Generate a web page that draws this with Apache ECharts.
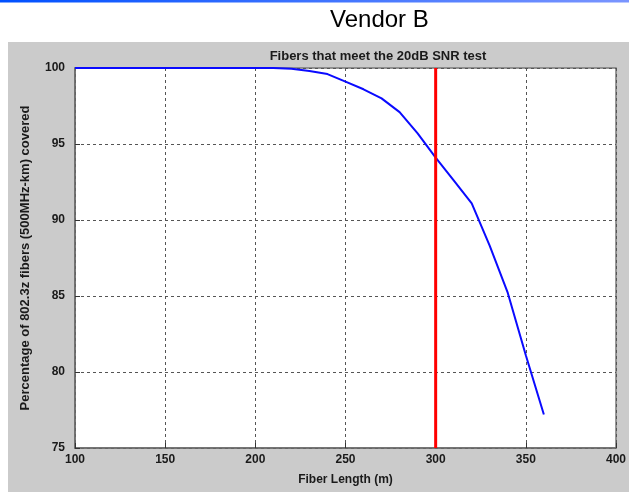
<!DOCTYPE html>
<html>
<head>
<meta charset="utf-8">
<script src="https://cdn.jsdelivr.net/npm/echarts@6/dist/echarts.min.js"></script>
<style>html,body{margin:0;padding:0;background:#fff;}#c{width:629px;height:492px;}</style>
</head>
<body>
<div id="c"></div>
<script>
const fiberLength = [100, 110, 120, 130, 140, 150, 160, 170, 180, 190, 200, 210, 220, 230, 240, 250, 260, 270, 280, 290, 300, 310, 320, 330, 340, 350, 360];
const percentCovered = [100, 100, 100, 100, 100, 100, 100, 100, 100, 100, 100, 100, 99.95, 99.8, 99.6, 99.1, 98.6, 98.0, 97.1, 95.7, 94.1, 92.6, 91.1, 88.3, 85.2, 81.1, 77.2];
const limitLength = [300, 300];
const limitRange = [75, 100];
const xTicks = [100, 150, 200, 250, 300, 350, 400];
const yTicks = [75, 80, 85, 90, 95, 100];

const chart = echarts.init(document.getElementById('c'), null, {renderer: 'canvas'});
const font = '"Liberation Sans", Arial, sans-serif';
chart.setOption({
  animation: false,
  backgroundColor: '#ffffff',
  graphic: [
    {type: 'rect', left: 0, top: 0, z: -10, shape: {width: 629, height: 2.5},
     style: {fill: new echarts.graphic.LinearGradient(0, 0, 1, 0, [{offset: 0, color: '#0050ff'}, {offset: 1, color: '#7a95ff'}])}},
    {type: 'rect', left: 8, top: 42, z: -10, shape: {width: 621, height: 450}, style: {fill: '#cbcbcb'}},
    {type: 'text', left: 330, top: 8, z: 10,
     style: {text: 'Vendor B', font: '24px ' + font, fill: '#000'}}
  ],
  title: {
    text: 'Fibers that meet the 20dB SNR test',
    left: 373, top: 45, textAlign: 'center',
    textStyle: {fontFamily: font, fontSize: 13, fontWeight: 'bold', color: '#1a1a1a'}
  },
  grid: {left: 75, top: 68, width: 542, height: 380, show: true, backgroundColor: '#ffffff', borderColor: '#7a7a7a', borderWidth: 1.5},
  xAxis: {
    type: 'value', min: 100, max: 400, interval: 50,
    name: 'Fiber Length (m)', nameLocation: 'middle', nameGap: 26,
    nameTextStyle: {fontFamily: font, fontSize: 12, fontWeight: 'bold', color: '#1a1a1a'},
    axisLine: {show: true, lineStyle: {color: '#6a6a6a', width: 1.5}},
    axisTick: {show: true, inside: true, length: 5, lineStyle: {color: '#333'}},
    axisLabel: {fontFamily: font, fontSize: 12, fontWeight: 'bold', color: '#1a1a1a', margin: 6,
      formatter: v => xTicks.includes(v) ? String(v) : ''},
    splitLine: {show: true, lineStyle: {color: '#555', type: [3, 3], width: 1}}
  },
  yAxis: {
    type: 'value', min: 75, max: 100, interval: 5,
    name: 'Percentage of 802.3z fibers (500MHz-km) covered', nameLocation: 'middle', nameGap: 43,
    nameTextStyle: {fontFamily: font, fontSize: 13, fontWeight: 'bold', color: '#1a1a1a'},
    axisLine: {show: true, lineStyle: {color: '#6a6a6a', width: 1.5}},
    axisTick: {show: true, inside: true, length: 5, lineStyle: {color: '#333'}},
    axisLabel: {fontFamily: font, fontSize: 12, fontWeight: 'bold', color: '#1a1a1a', margin: 10,
      formatter: v => yTicks.includes(v) ? String(v) : ''},
    splitLine: {show: true, lineStyle: {color: '#555', type: [3, 3], width: 1}}
  },
  series: [
    {type: 'line', data: fiberLength.map((x, i) => [x, percentCovered[i]]), showSymbol: false,
     lineStyle: {color: '#0a0aff', width: 2}, z: 3},
    {type: 'line', data: limitLength.map((x, i) => [x, limitRange[i]]), showSymbol: false,
     lineStyle: {color: '#ff0000', width: 3}, z: 4}
  ]
});
</script>
</body>
</html>
